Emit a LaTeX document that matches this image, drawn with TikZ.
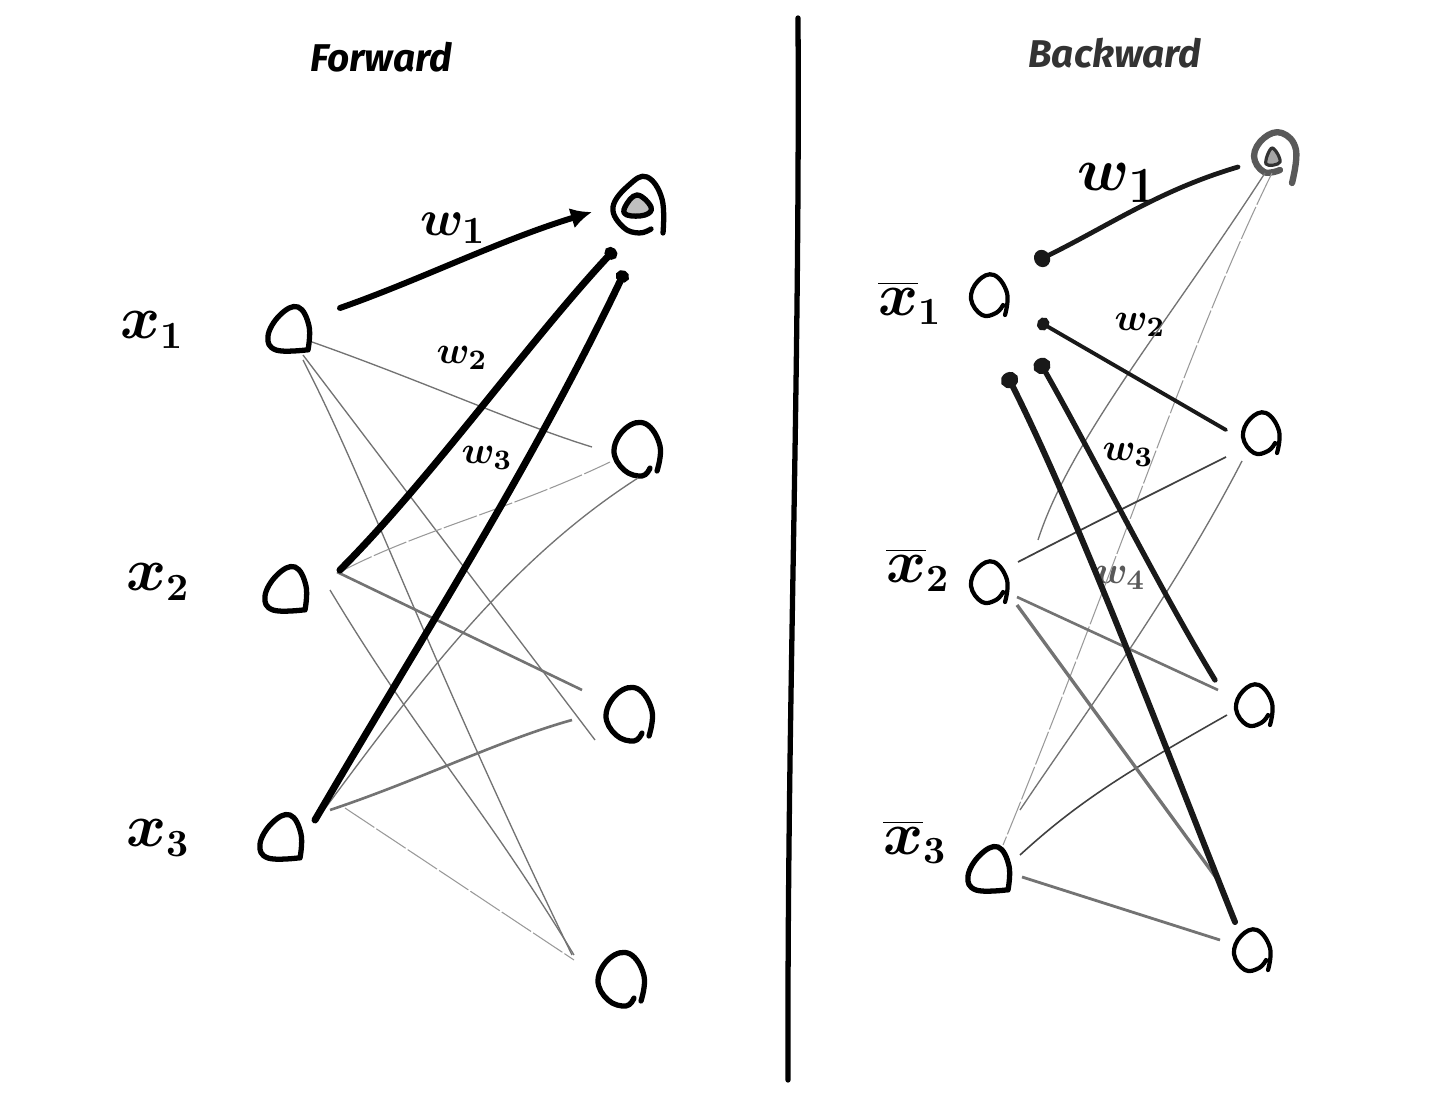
\documentclass[tikz,border=0pt]{standalone}
\usepackage{fontspec}
\setmainfont{Fira Sans}
\usetikzlibrary{arrows.meta}
\tikzset{
  x=0.01cm,y=-0.01cm,
  nd/.style={circle,inner sep=0pt,minimum size=0.36cm,draw=none},
  ring/.style={draw=black,line width=1.5pt,line cap=round,line join=round},
  heavy/.style={draw=black,line width=1.7pt,line cap=round},
  heavyb/.style={draw=black!90,line width=1.35pt,line cap=round},
  med/.style={draw=black!60,line width=0.6pt},
  medb/.style={draw=black!55,line width=0.75pt},
  fine/.style={draw=black!55,line width=0.38pt},
  finedark/.style={draw=black!75,line width=0.38pt},
  faint/.style={draw=black!40,line width=0.3pt,dash pattern=on 10pt off 0.7pt},
  tipa/.style={-{Latex[length=6pt,width=6pt]}},
  tipb/.style={-{Circle[length=3.4pt,width=3.8pt]}},
  tipc/.style={-{Circle[length=4.5pt,width=5pt]}},
  ttl/.style={font=\fontsize{11pt}{13pt}\selectfont\bfseries\itshape,inner sep=0pt},
  lab/.style={font=\fontsize{16pt}{18pt}\selectfont\boldmath,inner sep=0pt},
  wbig/.style={font=\fontsize{15pt}{17pt}\selectfont\boldmath,inner sep=0pt},
  wbigb/.style={font=\fontsize{19pt}{21pt}\selectfont\boldmath,inner sep=0pt},
  wsm/.style={font=\fontsize{11pt}{13pt}\selectfont\boldmath,inner sep=0pt},
}
\newcommand\con[6][]{\draw[#1] ([shift={(#3)}]#2.center) #4 ([shift={(#6)}]#5.center);}
% hand-drawn outlines around a named node
\newcommand\dshape[1]{\draw[ring,shift={(#1.center)}] plot[smooth,tension=0.7] coordinates {(20,20)(21,-4)(10,-23)(-8,-15)(-20,6)(-12,20)(18,20)};}
\newcommand\gshape[1]{\draw[ring,shift={(#1.center)}] plot[smooth,tension=0.7] coordinates {(19,21)(22,-4)(8,-26)(-12,-22)(-24,0)(-14,20)(4,26)(12,18)};}
\newcommand\ashape[1]{\draw[ring,line width=1.2pt,shift={(#1.center)}] plot[smooth,tension=0.7] coordinates {(15,20)(17,-2)(4,-20)(-12,-14)(-19,4)(-8,20)(6,18)(13,10)};}
\begin{document}
\begin{tikzpicture}
\useasboundingbox (0,0) rectangle (1440,1101);
% divider
\coordinate (top) at (798,18);
\coordinate (bot) at (788,1080);
\draw[black,line width=1.5pt,line cap=round] (top) .. controls (800,400) and (787,700) .. (bot);
% titles
\node[ttl] (tf) at (381,57) {Forward};
\node[ttl,text=black!80] (tb) at (1115,53) {Backward};
% forward nodes
\node[nd] (a1) at (288,330) {};
\node[nd] (a2) at (285,590) {};
\node[nd] (a3) at (280,838) {};
\node[nd] (b1) at (637,207) {};
\node[nd] (b2) at (638,450) {};
\node[nd] (b3) at (630,715) {};
\node[nd] (b4) at (622,980) {};
\dshape{a1}\dshape{a2}\dshape{a3}
\gshape{b2}\gshape{b3}\gshape{b4}
\draw[ring,shift={(b1.center)}] plot[smooth,tension=0.7] coordinates {(26,26)(25,-8)(10,-30)(-8,-22)(-24,0)(-14,20)(2,26)(14,22)};
\draw[ring,fill=black!25,shift={(b1.center)}] plot[smooth cycle,tension=0.7] coordinates {(0,-12)(14,0)(8,8)(-10,8)(-12,0)};
% forward labels
\node[lab] (xa) at (152,330) {$x_{1}$};
\node[lab] (xb) at (158,582) {$x_{2}$};
\node[lab] (xc) at (158,838) {$x_{3}$};
\node[wbig] (w1f) at (453,228) {$w_{1}$};
\node[wsm] (w2f) at (462,358) {$w_{2}$};
\node[wsm] (w3f) at (487,458) {$w_{3}$};
% forward connectors
\con[fine]{a1}{24,12}{.. controls (420,380) and (520,425) ..}{b2}{-46,-3}
\con[fine]{a1}{15,25}{--}{b3}{-35,25}
\con[fine]{a1}{15,30}{.. controls (370,490) and (420,640) ..}{b4}{-50,-25}
\con[faint]{a2}{55,-18}{.. controls (420,530) and (510,510) ..}{b2}{-28,12}
\con[medb]{a2}{52,-18}{--}{b3}{-48,-25}
\con[fine]{a2}{45,0}{.. controls (420,740) and (480,800) ..}{b4}{-48,-25}
\con[fine]{a3}{38,-20}{.. controls (420,680) and (510,560) ..}{b2}{0,28}
\con[medb]{a3}{50,-28}{.. controls (420,780) and (500,740) ..}{b3}{-58,5}
\con[faint]{a3}{65,-30}{--}{b4}{-48,-20}
\con[heavy,tipa]{a1}{52,-22}{.. controls (420,280) and (500,240) ..}{b1}{-45,5}
\con[heavy,line width=2pt,tipb]{a2}{55,-20}{.. controls (430,480) and (530,340) ..}{b1}{-22,42}
\con[heavy,line width=2pt,tipb]{a3}{35,-18}{.. controls (420,640) and (530,470) ..}{b1}{-12,64}
% backward nodes
\node[nd] (c1) at (990,295) {};
\node[nd] (c2) at (990,582) {};
\node[nd] (c3) at (988,870) {};
\node[nd] (d1) at (1272,158) {};
\node[nd] (d2) at (1262,433) {};
\node[nd] (d3) at (1255,705) {};
\node[nd] (d4) at (1253,950) {};
\ashape{c1}\ashape{c2}\dshape{c3}
\ashape{d2}\ashape{d3}\ashape{d4}
\draw[ring,draw=black!65,line width=1.8pt,shift={(d1.center)}] plot[smooth,tension=0.7] coordinates {(20,25)(24,-8)(10,-25)(-8,-20)(-18,-2)(-8,14)(8,12)};
\draw[ring,draw=black!80,fill=black!35,line width=0.9pt,shift={(d1.center)}] plot[smooth cycle,tension=0.7] coordinates {(0,-10)(8,4)(-6,6)};
\node[lab] (ya) at (910,303) {$\overline{x}_{1}$};
\node[lab] (yb) at (918,570) {$\overline{x}_{2}$};
\node[lab] (yc) at (915,842) {$\overline{x}_{3}$};
\node[wbigb] (w1b) at (1118,183) {$w_{1}$};
\node[wsm] (w2b) at (1140,325) {$w_{2}$};
\node[wsm] (w3b) at (1128,455) {$w_{3}$};
\node[wsm,text=black!65] (w4b) at (1120,578) {$w_{4}$};
% backward connectors
\con[fine]{d1}{-7,15}{.. controls (1170,320) and (1070,440) ..}{c2}{48,-42}
\con[faint]{d1}{0,15}{.. controls (1190,340) and (1120,560) ..}{c3}{15,-25}
\con[finedark,line width=0.5pt]{d2}{-36,24}{.. controls (1140,500) and (1080,530) ..}{c2}{28,-20}
\con[fine]{d2}{-20,28}{.. controls (1170,600) and (1080,720) ..}{c3}{32,-60}
\con[medb]{d3}{-37,-15}{--}{c2}{27,15}
\con[finedark,line width=0.45pt]{d3}{-28,10}{.. controls (1130,770) and (1080,800) ..}{c3}{32,-15}
\con[medb,line width=0.95pt]{d4}{-33,-67}{--}{c2}{27,23}
\con[medb,line width=0.8pt]{d4}{-33,-10}{--}{c3}{34,7}
\con[heavyb,tipc]{d1}{-34,9}{.. controls (1160,190) and (1110,225) ..}{c1}{45,-33}
\con[heavyb,line width=1.1pt,tipb]{d2}{-36,-3}{--}{c1}{48,26}
\con[heavyb,line width=1.5pt,tipc]{d3}{-40,-25}{.. controls (1160,590) and (1090,450) ..}{c1}{48,64}
\con[heavyb,line width=1.7pt,tipc]{d4}{-18,-28}{.. controls (1170,760) and (1080,520) ..}{c1}{16,78}
\end{tikzpicture}
\end{document}
